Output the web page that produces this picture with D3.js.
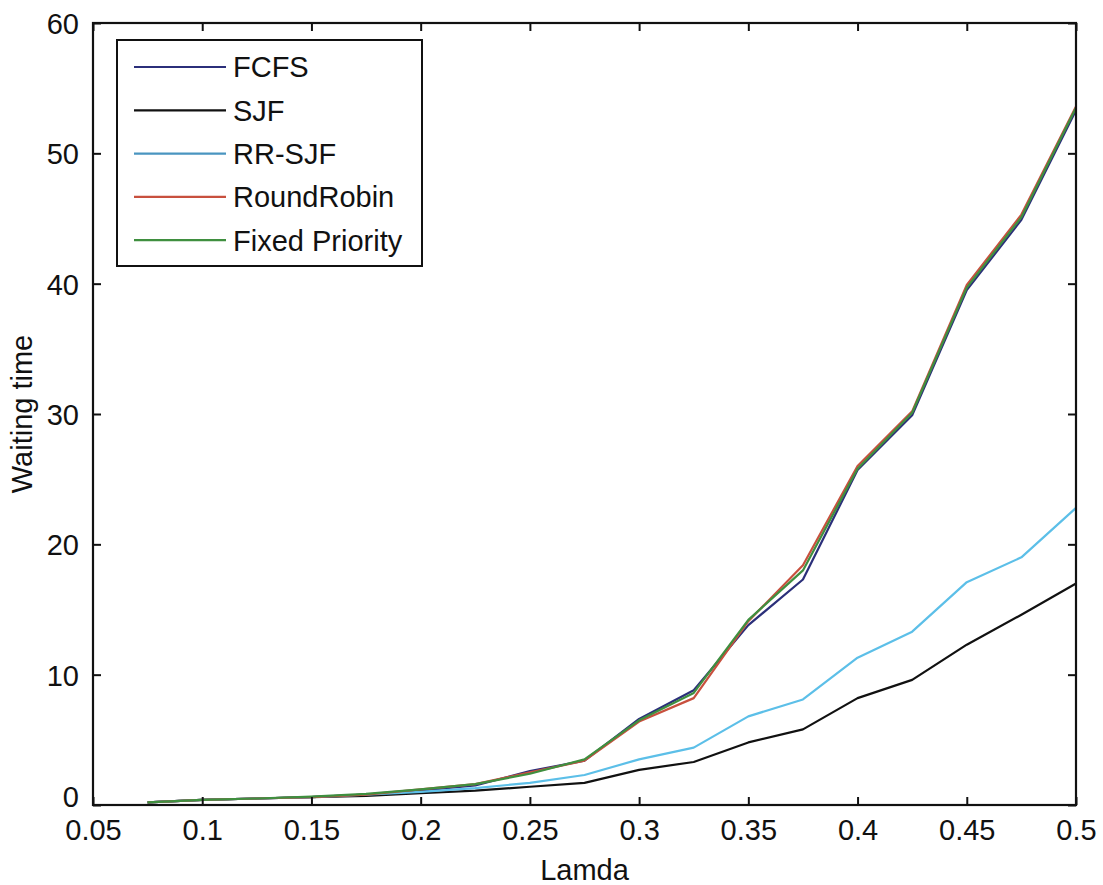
<!DOCTYPE html>
<html><head><meta charset="utf-8">
<script src="https://cdn.jsdelivr.net/npm/d3@7"></script>
<style>body{margin:0;background:#fff}svg{display:block}text{font-family:"Liberation Sans",Arial,sans-serif;fill:#111}</style>
</head><body><svg id="c" width="1103" height="885"></svg>
<script>
const lamda = [0.075,0.1,0.125,0.15,0.175,0.2,0.225,0.25,0.275,0.3,0.325,0.35,0.375,0.4,0.425,0.45,0.475,0.5];
const fcfs  = [0.2,0.4,0.5,0.6,0.8,1.1,1.5,2.6,3.4,6.6,8.8,13.8,17.3,25.7,29.9,39.5,44.9,53.3];
const sjf   = [0.2,0.4,0.5,0.6,0.7,0.9,1.1,1.4,1.7,2.7,3.3,4.8,5.8,8.2,9.6,12.3,14.6,17.0];
const rrsjf = [0.2,0.4,0.5,0.6,0.8,1.0,1.3,1.7,2.3,3.5,4.4,6.8,8.1,11.3,13.3,17.1,19.0,22.8];
const roundRobin = [0.2,0.4,0.5,0.6,0.8,1.2,1.6,2.5,3.4,6.4,8.2,14.1,18.4,26.0,30.2,39.9,45.3,53.6];
const fixedPriority = [0.2,0.4,0.5,0.65,0.85,1.2,1.6,2.4,3.5,6.5,8.6,14.2,18.0,25.8,30.1,39.7,45.1,53.5];
const seriesNames = ["FCFS","SJF","RR-SJF","RoundRobin","Fixed Priority"];
const seriesValues = [fcfs, sjf, rrsjf, roundRobin, fixedPriority];
const lineColors = ["#2b2f7a","#111111","#5cbfe8","#c8503e","#3f8f3f"];
const legendColors = ["#2b2f7a","#111111","#4a95c0","#c8503e","#3f8f3f"];
const xTicks = [0.05,0.1,0.15,0.2,0.25,0.3,0.35,0.4,0.45,0.5];
const yTicks = [0,10,20,30,40,50,60];

const svg = d3.select("#c");
const L=93,R=1076,T=23,B=805;
const x = d3.scaleLinear().domain([0.05,0.5]).range([L,R]);
const y = d3.scaleLinear().domain([0,60]).range([B,T]);

const g = svg.append("g");
const line = d3.line().x((d,i)=>x(lamda[i])).y(d=>y(d));
seriesValues.forEach((vals,k)=>{
  g.append("path").datum(vals).attr("d",line).attr("fill","none")
   .attr("stroke",lineColors[k]).attr("stroke-width",2.2).attr("stroke-linejoin","round");
});

const fmtX = d=>String(+d.toFixed(2));
const ax = svg.append("g").attr("transform",`translate(0,${B})`)
  .call(d3.axisBottom(x).tickValues(xTicks).tickFormat(fmtX).tickSizeInner(-8).tickSizeOuter(0).tickPadding(14));
const ax2 = svg.append("g").attr("transform",`translate(0,${T})`)
  .call(d3.axisTop(x).tickValues(xTicks).tickFormat("").tickSizeInner(-8).tickSizeOuter(0));
const ay = svg.append("g").attr("transform",`translate(${L},0)`)
  .call(d3.axisLeft(y).tickValues(yTicks).tickSizeInner(-8).tickSizeOuter(0).tickPadding(14));
const ay2 = svg.append("g").attr("transform",`translate(${R},0)`)
  .call(d3.axisRight(y).tickValues(yTicks).tickFormat("").tickSizeInner(-8).tickSizeOuter(0));
[ax,ax2,ay,ay2].forEach(a=>{
  a.select(".domain").remove();
  a.selectAll("line").attr("stroke","#111").attr("stroke-width",2);
  a.selectAll("text").attr("font-size",29).attr("font-family","Liberation Sans, Arial, sans-serif").attr("fill","#111");
});
ax.selectAll("text").attr("dy","0.71em");
ay.selectAll("text").attr("dy",d=>d===0?"0.05em":"0.36em");

svg.append("rect").attr("x",L).attr("y",T).attr("width",R-L).attr("height",B-T)
  .attr("fill","none").attr("stroke","#111").attr("stroke-width",2.2);

svg.append("text").attr("x",(L+R)/2).attr("y",880).attr("text-anchor","middle")
  .attr("font-size",29).text("Lamda");
svg.append("text").attr("transform","translate(32,414) rotate(-90)").attr("text-anchor","middle")
  .attr("font-size",29).text("Waiting time");

// legend
const lg = svg.append("g");
lg.append("rect").attr("x",117).attr("y",40).attr("width",305).attr("height",226)
  .attr("fill","#fff").attr("stroke","#111").attr("stroke-width",2);
seriesNames.forEach((n,k)=>{
  const yy = 67 + k*43.3;
  lg.append("line").attr("x1",134).attr("x2",226).attr("y1",yy).attr("y2",yy)
    .attr("stroke",legendColors[k]).attr("stroke-width",2.2);
  lg.append("text").attr("x",233).attr("y",yy).attr("dy","0.36em").attr("font-size",29).text(n);
});
</script></body></html>
